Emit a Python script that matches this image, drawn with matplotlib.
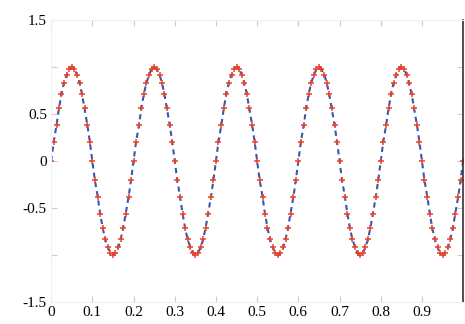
import matplotlib.pyplot as plt

# sample positions (one row per 0.1)
x_vals = [
    0.0, 0.006, 0.013, 0.019, 0.025, 0.031, 0.038, 0.044, 0.05, 0.056, 0.063, 0.069, 0.075, 0.081, 0.088, 0.094,
    0.1, 0.106, 0.113, 0.119, 0.125, 0.131, 0.138, 0.144, 0.15, 0.156, 0.163, 0.169, 0.175, 0.181, 0.188, 0.194,
    0.2, 0.206, 0.213, 0.219, 0.225, 0.231, 0.238, 0.244, 0.25, 0.256, 0.263, 0.269, 0.275, 0.281, 0.288, 0.294,
    0.3, 0.306, 0.313, 0.319, 0.325, 0.331, 0.338, 0.344, 0.35, 0.356, 0.363, 0.369, 0.375, 0.381, 0.388, 0.394,
    0.4, 0.406, 0.413, 0.419, 0.425, 0.431, 0.438, 0.444, 0.45, 0.456, 0.463, 0.469, 0.475, 0.481, 0.488, 0.494,
    0.5, 0.506, 0.513, 0.519, 0.525, 0.531, 0.538, 0.544, 0.55, 0.556, 0.563, 0.569, 0.575, 0.581, 0.588, 0.594,
    0.6, 0.606, 0.613, 0.619, 0.625, 0.631, 0.638, 0.644, 0.65, 0.656, 0.663, 0.669, 0.675, 0.681, 0.688, 0.694,
    0.7, 0.706, 0.713, 0.719, 0.725, 0.731, 0.738, 0.744, 0.75, 0.756, 0.763, 0.769, 0.775, 0.781, 0.788, 0.794,
    0.8, 0.806, 0.813, 0.819, 0.825, 0.831, 0.838, 0.844, 0.85, 0.856, 0.863, 0.869, 0.875, 0.881, 0.888, 0.894,
    0.9, 0.906, 0.913, 0.919, 0.925, 0.931, 0.938, 0.944, 0.95, 0.956, 0.963, 0.969, 0.975, 0.981, 0.988, 0.994,
    1.0,
]

# signal values
y_vals = [
    0, 0.2, 0.38, 0.56, 0.71, 0.83, 0.92, 0.98, 1.0, 0.98, 0.92, 0.83, 0.71, 0.56, 0.38, 0.2,
    0, -0.2, -0.38, -0.56, -0.71, -0.83, -0.92, -0.98, -1.0, -0.98, -0.92, -0.83, -0.71, -0.56, -0.38, -0.2,
    0, 0.2, 0.38, 0.56, 0.71, 0.83, 0.92, 0.98, 1.0, 0.98, 0.92, 0.83, 0.71, 0.56, 0.38, 0.2,
    0, -0.2, -0.38, -0.56, -0.71, -0.83, -0.92, -0.98, -1.0, -0.98, -0.92, -0.83, -0.71, -0.56, -0.38, -0.2,
    0, 0.2, 0.38, 0.56, 0.71, 0.83, 0.92, 0.98, 1.0, 0.98, 0.92, 0.83, 0.71, 0.56, 0.38, 0.2,
    0, -0.2, -0.38, -0.56, -0.71, -0.83, -0.92, -0.98, -1.0, -0.98, -0.92, -0.83, -0.71, -0.56, -0.38, -0.2,
    0, 0.2, 0.38, 0.56, 0.71, 0.83, 0.92, 0.98, 1.0, 0.98, 0.92, 0.83, 0.71, 0.56, 0.38, 0.2,
    0, -0.2, -0.38, -0.56, -0.71, -0.83, -0.92, -0.98, -1.0, -0.98, -0.92, -0.83, -0.71, -0.56, -0.38, -0.2,
    0, 0.2, 0.38, 0.56, 0.71, 0.83, 0.92, 0.98, 1.0, 0.98, 0.92, 0.83, 0.71, 0.56, 0.38, 0.2,
    0, -0.2, -0.38, -0.56, -0.71, -0.83, -0.92, -0.98, -1.0, -0.98, -0.92, -0.83, -0.71, -0.56, -0.38, -0.2,
    0,
]

x_ticks = [0, 0.1, 0.2, 0.3, 0.4, 0.5, 0.6, 0.7, 0.8, 0.9, 1.0]
x_labels = ["0", "0.1", "0.2", "0.3", "0.4", "0.5", "0.6", "0.7", "0.8", "0.9", ""]
y_ticks = [-1.5, -1, -0.5, 0, 0.5, 1, 1.5]
y_labels = ["-1.5", "", "-0.5", "0", "0.5", "", "1.5"]

plt.rcParams['font.family'] = ['Liberation Serif', 'DejaVu Serif']

fig = plt.figure(figsize=(4.65, 3.24), dpi=100)
ax = fig.add_axes([0.11, 0.068, 0.886, 0.87])

ax.plot(x_vals, y_vals, color='#3a55b4', linestyle=(0, (2.5, 2)), linewidth=1.5)
ax.plot(x_vals, y_vals, linestyle='none', marker='+', color='#e5432c',
        markersize=5, markeredgewidth=1.1)

ax.set_xlim(0, 1)
ax.set_ylim(-1.5, 1.5)
ax.set_xticks(x_ticks)
ax.set_xticklabels(x_labels)
ax.set_yticks(y_ticks)
ax.set_yticklabels(y_labels)
ax.tick_params(direction='in', top=True, right=True, length=4,
               color='#cccccc', labelsize=11, pad=3)

for side in ['left', 'top', 'bottom']:
    ax.spines[side].set_color('#f0f0f0')
ax.spines['right'].set_color('#333333')
ax.spines['right'].set_linewidth(1.2)

fig.savefig('out.png', dpi=100)
plt.close(fig)
